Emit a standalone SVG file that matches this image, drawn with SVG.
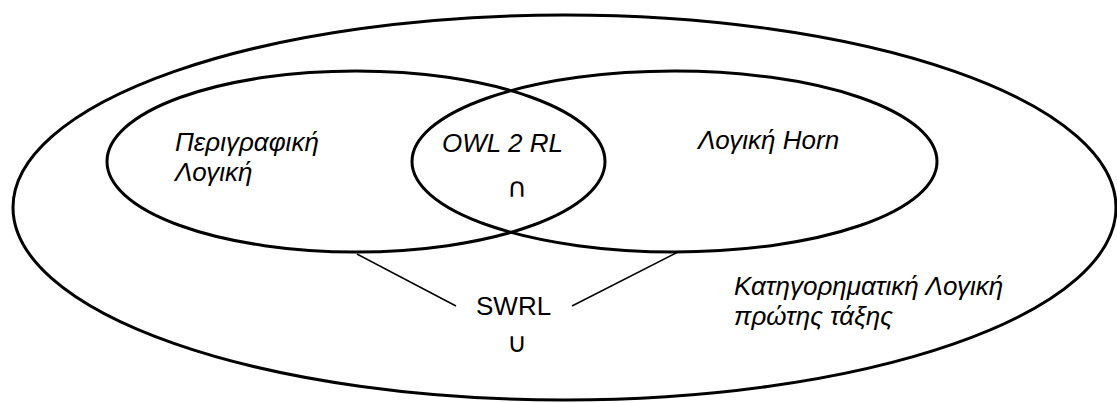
<svg xmlns="http://www.w3.org/2000/svg" width="1117" height="403" viewBox="0 0 1117 403">
  <style>
    .set { fill: none; stroke: #000; stroke-width: 3; }
    .link { fill: none; stroke: #000; stroke-width: 1.5; }
    .lbl { font-family: "Liberation Sans", Arial, sans-serif; font-size: 26px; fill: #000; }
    .it { font-style: italic; }
    .sym { font-family: "DejaVu Sans", "Liberation Sans", sans-serif; font-size: 27px; fill: #000; text-anchor: middle; }
  </style>
  <rect width="1117" height="403" fill="#fff"/>

  <!-- first-order predicate logic: the enclosing set -->
  <g id="fol">
    <ellipse class="set" cx="564.5" cy="207.5" rx="551.5" ry="192.5"/>
    <text class="lbl it" x="734" y="295">Κατηγορηματική Λογική</text>
    <text class="lbl it" x="734" y="325">πρώτης τάξης</text>
  </g>

  <!-- description logic -->
  <g id="dl">
    <ellipse class="set" cx="356" cy="161.5" rx="249" ry="90.5"/>
    <text class="lbl it" x="175" y="151">Περιγραφική</text>
    <text class="lbl it" x="175" y="181">Λογική</text>
  </g>

  <!-- Horn logic -->
  <g id="horn">
    <ellipse class="set" cx="674.5" cy="161.5" rx="262.5" ry="90.5"/>
    <text class="lbl it" x="698" y="149">Λογική Horn</text>
  </g>

  <!-- intersection of the two sets -->
  <g id="owl2rl">
    <text class="lbl it" x="442" y="152">OWL 2 RL</text>
    <text class="sym" x="517" y="197">∩</text>
  </g>

  <!-- union of the two sets -->
  <g id="swrl">
    <text class="lbl" x="476" y="315">SWRL</text>
    <text class="sym" x="517" y="352">∪</text>
  </g>

  <g id="connectors">
    <line class="link" x1="357" y1="254" x2="456" y2="306"/>
    <line class="link" x1="678" y1="252" x2="572" y2="306"/>
  </g>
</svg>
